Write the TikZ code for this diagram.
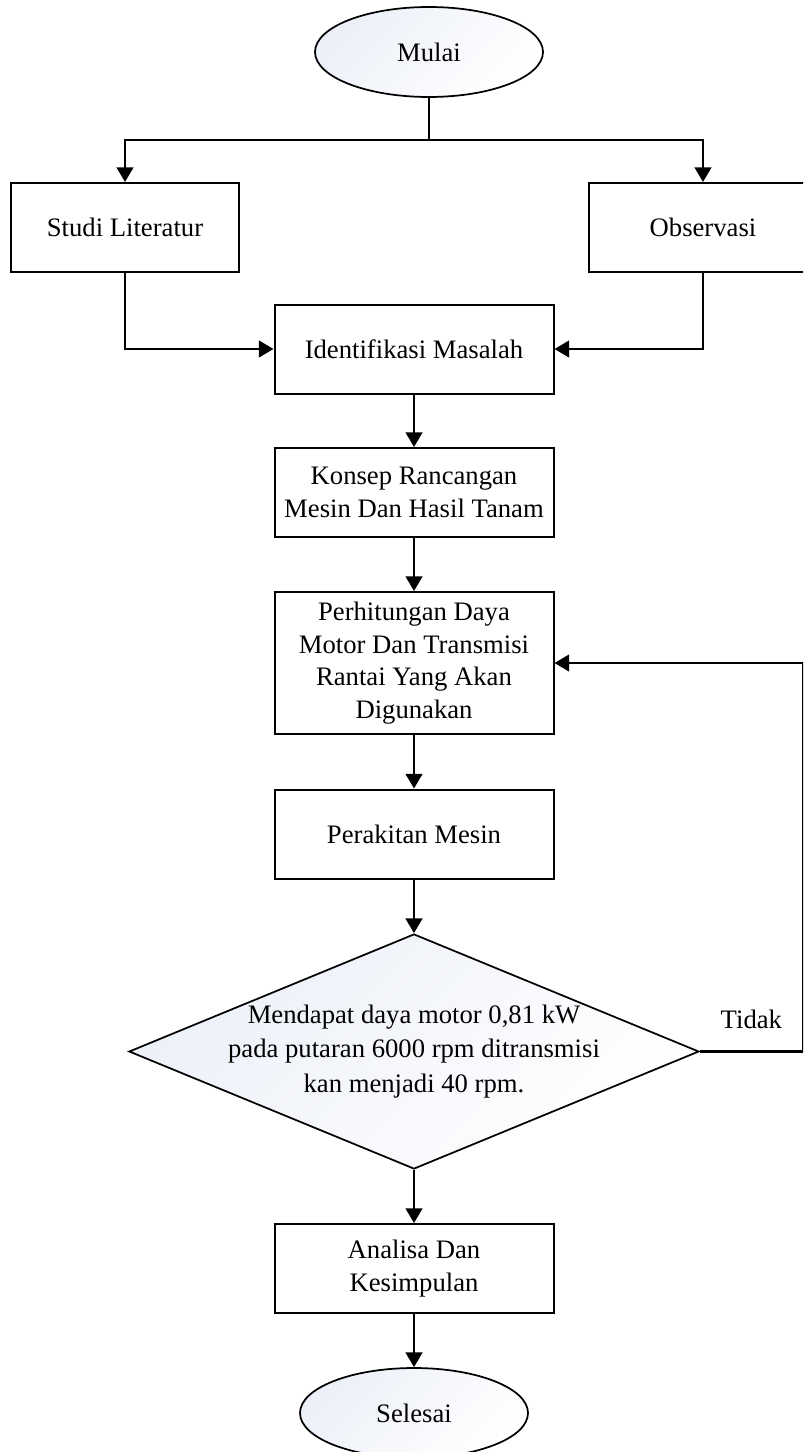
\documentclass[tikz,border=0pt]{standalone}
\usepackage{fontspec}
\setmainfont{Liberation Serif}
\usetikzlibrary{shapes.geometric,arrows.meta}
\definecolor{shapefill}{RGB}{236,240,248}

\begin{document}
\begin{tikzpicture}[x=0.75pt,y=-0.75pt,
  font=\fontsize{20}{24.5}\selectfont,
  box/.style={draw,line width=1.5pt,minimum width=209.25pt,minimum height=66.75pt,align=center,inner sep=0pt},
  sidebox/.style={box,minimum width=171pt},
  term/.style={ellipse,draw,line width=1.3pt,minimum width=171pt,minimum height=67.5pt,inner sep=0pt,
    top color=shapefill,bottom color=white,shading angle=45},
  decision/.style={diamond,draw,line width=1.3pt,aspect=2.4,minimum width=427.5pt,minimum height=176.25pt,
    inner xsep=-6pt,inner ysep=-3pt,align=center,font=\fontsize{20}{26}\selectfont,
    top color=shapefill,bottom color=white,shading angle=45},
  arr/.style={line width=1.7pt,-{Triangle[length=11pt,width=12.5pt]}}]
\path[use as bounding box,clip] (0,0) rectangle (803,1452); % page size

\node[term] (mulai) at (429,52) {Mulai};
\node[sidebox] (studi) at (125,227.5) {Studi Literatur};
\node[sidebox] (obs) at (703,227.5) {Observasi};
\node[box] (ident) at (414,349) {Identifikasi Masalah};
\node[box] (konsep) at (414,492.5) {Konsep Rancangan\\Mesin Dan Hasil Tanam};
\node[box,minimum height=106.5pt] (hitung) at (414,663)
  {Perhitungan Daya\\Motor Dan Transmisi\\Rantai Yang Akan\\Digunakan};
\node[box] (rakit) at (414,834) {Perakitan Mesin};
\node[decision] (cek) at (414,1051.5)
  {Mendapat daya motor 0,81 kW\\pada putaran 6000 rpm ditransmisi\\kan menjadi 40 rpm.};
\node[box] (analisa) at (414,1268.5) {Analisa Dan\\Kesimpulan};
\node[term] (selesai) at (414,1413) {Selesai};

\draw[line width=1.7pt] (mulai.south) -- ++(0,42) coordinate (cabang);
\draw[arr] (cabang) -| (studi.north);
\draw[arr] (cabang) -| (obs.north);
\draw[arr] (studi.south) |- (ident.west);
\draw[arr] (obs.south) |- (ident.east);
\draw[arr] (ident) -- (konsep);
\draw[arr] (konsep) -- (hitung);
\draw[arr] (hitung) -- (rakit);
\draw[arr] (rakit) -- (cek);
\draw[arr] (cek) -- (analisa);
\draw[arr] (analisa) -- (selesai);
\draw[arr] (cek.east) -- ++(103,0) node[midway,above=13pt]{Tidak} |- (hitung.east);
\end{tikzpicture}
\end{document}
